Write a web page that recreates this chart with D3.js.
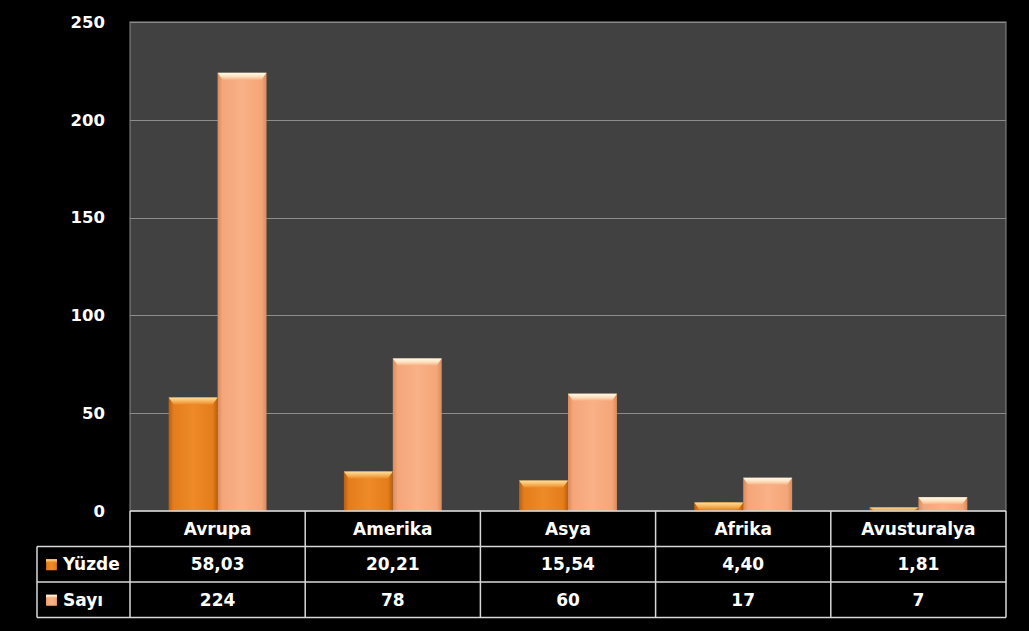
<!DOCTYPE html>
<html>
<head><meta charset="utf-8">
<title>Kıtalar</title>
<style>
body { margin:0; background:#000; }
text { font-family:"DejaVu Sans", sans-serif; font-weight:bold; fill:#fff; }
</style>
</head>
<body>
<svg width="1029" height="631"></svg>
<script src="https://cdn.jsdelivr.net/npm/d3@7"></script>
<script>
var categories = ["Avrupa", "Amerika", "Asya", "Afrika", "Avusturalya"];
var seriesNames = ["Yüzde", "Sayı"];
var yuzde = [58.03, 20.21, 15.54, 4.40, 1.81];
var sayi = [224, 78, 60, 17, 7];
var yuzdeLabels = ["58,03", "20,21", "15,54", "4,40", "1,81"];
var sayiLabels = ["224", "78", "60", "17", "7"];
var yTicks = [0, 50, 100, 150, 200, 250];

var svg = d3.select("svg");
var plotL = 130, plotR = 1006, plotT = 22, plotB = 511;
var tableLeft = 37, rowH = 35.5;

var x0 = d3.scaleBand().domain(categories).range([plotL, plotR]).padding(0);
var x1 = d3.scaleBand().domain(seriesNames).range([0, x0.bandwidth()]).paddingInner(0).paddingOuter(0.79);
var y = d3.scaleLinear().domain([0, 250]).range([plotB, plotT]);

var defs = svg.append("defs");
function grad(id, stops, vertical) {
  var g = defs.append("linearGradient").attr("id", id)
    .attr("x1", 0).attr("y1", 0).attr("x2", vertical ? 0 : 1).attr("y2", vertical ? 1 : 0);
  stops.forEach(function(s) { g.append("stop").attr("offset", s[0]).attr("stop-color", s[1]); });
}
grad("g0", [[0, "#b85e10"], [0.1, "#e47d1c"], [0.5, "#ee8a28"], [0.9, "#e47d1c"], [1, "#b85e10"]]);
grad("g1", [[0, "#d98a5e"], [0.1, "#f4a679"], [0.5, "#f9b185"], [0.9, "#f4a679"], [1, "#d98a5e"]]);
grad("c0", [[0, "#fde0a0"], [0.5, "#f8b860"], [1, "#ee8a28"]], true);
grad("c1", [[0, "#fffbe8"], [0.5, "#fde2c0"], [1, "#f9b185"]], true);

// plot area
svg.append("rect").attr("x", plotL).attr("y", plotT).attr("width", plotR - plotL).attr("height", plotB - plotT)
  .attr("fill", "#414141").attr("stroke", "#8c8c8c").attr("stroke-width", 1);

svg.append("g").selectAll("line").data(yTicks.slice(1)).enter().append("line")
  .attr("x1", plotL).attr("x2", plotR)
  .attr("y1", function(d) { return Math.round(y(d)) + 0.5; })
  .attr("y2", function(d) { return Math.round(y(d)) + 0.5; })
  .attr("stroke", "#8c8c8c").attr("stroke-width", 1);

svg.append("g").selectAll("text").data(yTicks).enter().append("text")
  .attr("x", 105).attr("y", function(d) { return y(d); }).attr("dy", "0.35em")
  .attr("text-anchor", "end").style("font-size", "16.5px")
  .text(function(d) { return d; });

// bars
var data = [yuzde, sayi];
var groups = svg.append("g").selectAll("g").data(categories).enter().append("g")
  .attr("transform", function(d) { return "translate(" + x0(d) + ",0)"; });
groups.each(function(c, ci) {
  var g = d3.select(this);
  seriesNames.forEach(function(s, si) {
    var v = data[si][ci];
    var bx = x1(s), bw = x1.bandwidth(), by = y(v), bh = y(0) - y(v);
    g.append("rect").attr("x", bx).attr("y", by).attr("width", bw).attr("height", bh)
      .attr("fill", "url(#g" + si + ")");
    var ch = Math.min(7, bh), inset = 5;
    g.append("path")
      .attr("d", "M" + bx + "," + by + "h" + bw + "l" + (-inset) + "," + ch +
        "h" + (-(bw - 2 * inset)) + "z")
      .attr("fill", "url(#c" + si + ")");
  });
});

// data table
var tbl = svg.append("g").attr("stroke", "#d8d8d8").attr("stroke-width", 1.5).attr("fill", "none");
tbl.append("line").attr("x1", plotL).attr("x2", plotR).attr("y1", plotB).attr("y2", plotB);
[1, 2, 3].forEach(function(r) {
  tbl.append("line").attr("x1", tableLeft).attr("x2", plotR)
    .attr("y1", plotB + r * rowH).attr("y2", plotB + r * rowH);
});
tbl.append("line").attr("x1", tableLeft).attr("x2", tableLeft).attr("y1", plotB + rowH).attr("y2", plotB + 3 * rowH);
categories.forEach(function(c) {
  tbl.append("line").attr("x1", x0(c)).attr("x2", x0(c)).attr("y1", plotB).attr("y2", plotB + 3 * rowH);
});
tbl.append("line").attr("x1", plotR).attr("x2", plotR).attr("y1", plotB).attr("y2", plotB + 3 * rowH);

var rows = [categories, yuzdeLabels, sayiLabels];
rows.forEach(function(row, ri) {
  svg.append("g").selectAll("text").data(row).enter().append("text")
    .attr("x", function(d, i) { return x0(categories[i]) + x0.bandwidth() / 2; })
    .attr("y", plotB + ri * rowH + rowH / 2).attr("dy", "0.36em")
    .attr("text-anchor", "middle").style("font-size", "17px")
    .text(function(d) { return d; });
});

// legend keys
seriesNames.forEach(function(s, si) {
  var cy = plotB + (si + 1) * rowH + rowH / 2;
  svg.append("rect").attr("x", 46).attr("y", cy - 5).attr("width", 11).attr("height", 11)
    .attr("fill", "url(#g" + si + ")");
  svg.append("rect").attr("x", 46).attr("y", cy - 5).attr("width", 11).attr("height", 3)
    .attr("fill", "url(#c" + si + ")");
  svg.append("text").attr("x", 63).attr("y", cy).attr("dy", "0.36em")
    .style("font-size", "17px").text(s);
});
</script>
</body>
</html>
